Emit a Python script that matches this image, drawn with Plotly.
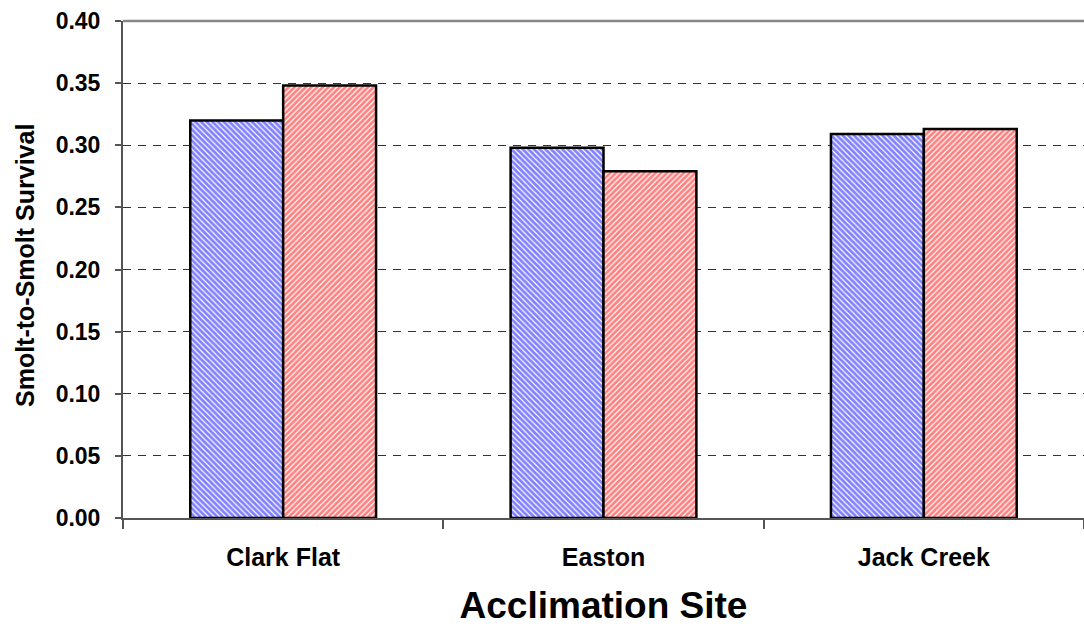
import plotly.graph_objects as go

sites = ["Clark Flat", "Easton", "Jack Creek"]
series_a = [0.320, 0.298, 0.309]
series_b = [0.348, 0.279, 0.313]
y_ticks = [0.00, 0.05, 0.10, 0.15, 0.20, 0.25, 0.30, 0.35, 0.40]
y_tick_labels = ["%.2f" % v for v in y_ticks]

FONT = "Liberation Sans, Arial, sans-serif"

fig = go.Figure()
fig.add_trace(go.Bar(
    x=sites, y=series_a, name="A",
    marker=dict(color="white", line=dict(color="black", width=2.5),
                pattern=dict(shape="\\", fgcolor="#0000ff", bgcolor="white",
                             size=4, solidity=0.7)),
))
fig.add_trace(go.Bar(
    x=sites, y=series_b, name="B",
    marker=dict(color="white", line=dict(color="black", width=2.5),
                pattern=dict(shape="/", fgcolor="#ff0000", bgcolor="white",
                             size=4, solidity=0.7)),
))

fig.update_layout(
    width=1084, height=627,
    margin=dict(l=123, r=0, t=21, b=109),
    plot_bgcolor="white", paper_bgcolor="white",
    barmode="group", bargap=0.42, bargroupgap=0,
    showlegend=False,
    font=dict(family=FONT, color="black"),
)
fig.update_xaxes(
    type="category", tickson="boundaries",
    ticks="outside", ticklen=9, tickcolor="#555", tickwidth=1.5,
    showline=True, linecolor="#555", linewidth=2,
    ticklabelstandoff=16,
    tickfont=dict(size=25, family=FONT, weight="bold"),
    title=dict(text="Acclimation Site", font=dict(size=37, family=FONT, weight="bold"), standoff=22),
    showgrid=False,
)
fig.update_yaxes(
    range=[0, 0.4], tickvals=y_ticks, ticktext=y_tick_labels,
    ticks="outside", ticklen=6, tickcolor="#555", tickwidth=1.5,
    showline=True, linecolor="#555", linewidth=2,
    showgrid=True, gridcolor="#333", gridwidth=1, griddash="8px,7px",
    zeroline=False,
    ticklabelstandoff=10,
    tickfont=dict(size=23, family=FONT, weight="bold"),
)
fig.add_annotation(
    text="Smolt-to-Smolt Survival", textangle=-90,
    xref="paper", yref="paper", x=(25 - 123) / 961, y=0.507,
    xanchor="center", yanchor="middle", showarrow=False,
    font=dict(size=25, family=FONT, weight="bold", color="black"),
)
fig.add_shape(type="line", xref="paper", yref="paper", x0=0, x1=1, y0=1, y1=1,
              line=dict(color="#888", width=2.5))

fig.write_html("out.html", config={"displayModeBar": False},
               post_script="document.body.style.margin='0';")
